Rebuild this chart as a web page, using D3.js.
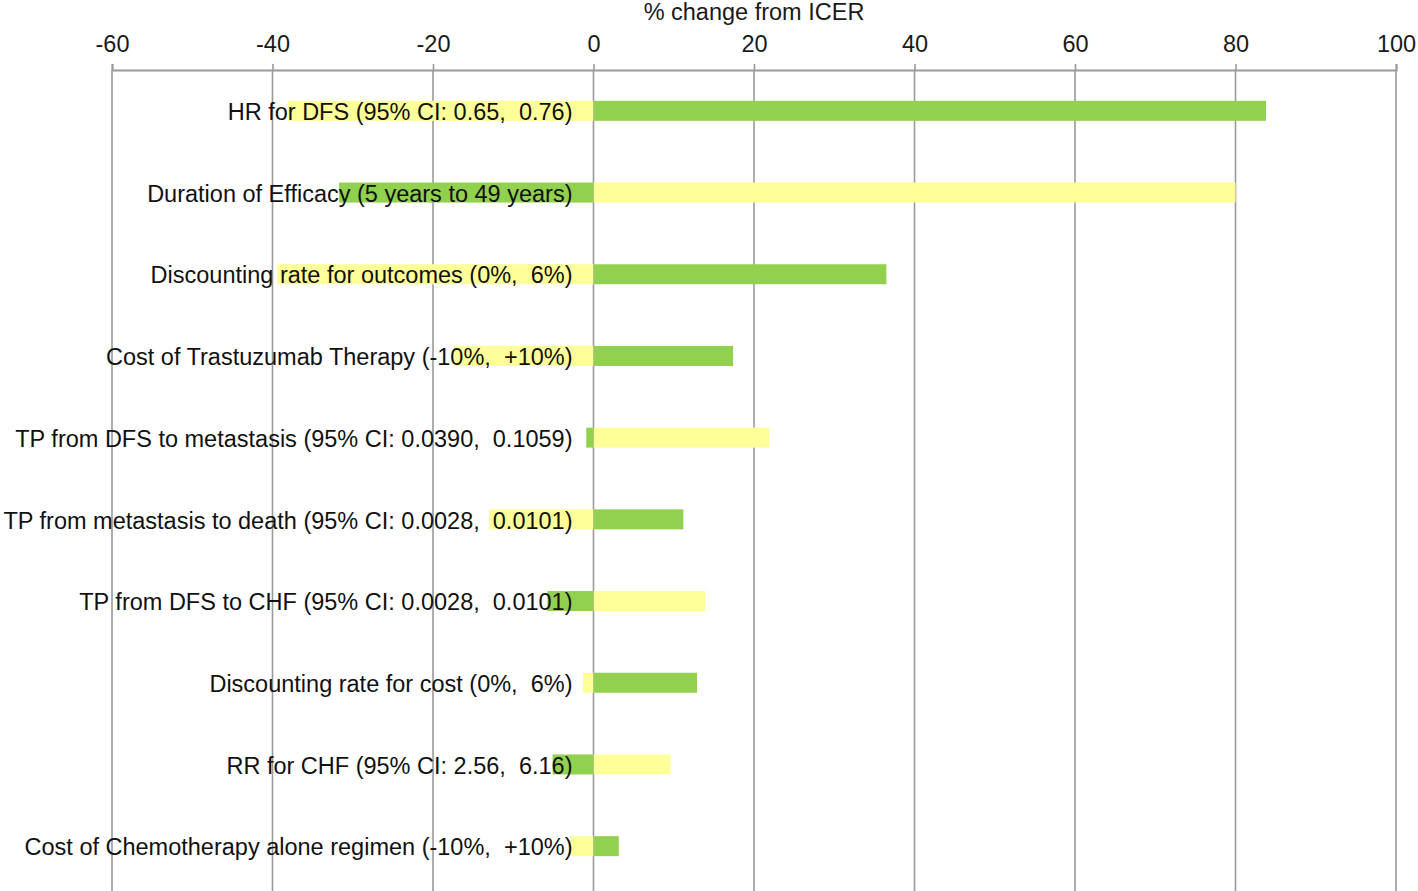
<!DOCTYPE html>
<html>
<head>
<meta charset="utf-8">
<script src="https://cdn.jsdelivr.net/npm/d3@7"></script>
<style>
  html, body { margin: 0; padding: 0; background: #fff; }
  svg { display: block; font-family: "Liberation Sans", Arial, sans-serif; }
</style>
</head>
<body>
<svg id="chart" width="1418" height="891"></svg>
<script>
const categories = [
  "HR for DFS (95% CI: 0.65,  0.76)",
  "Duration of Efficacy (5 years to 49 years)",
  "Discounting rate for outcomes (0%,  6%)",
  "Cost of Trastuzumab Therapy (-10%,  +10%)",
  "TP from DFS to metastasis (95% CI: 0.0390,  0.1059)",
  "TP from metastasis to death (95% CI: 0.0028,  0.0101)",
  "TP from DFS to CHF (95% CI: 0.0028,  0.0101)",
  "Discounting rate for cost (0%,  6%)",
  "RR for CHF (95% CI: 2.56,  6.16)",
  "Cost of Chemotherapy alone regimen (-10%,  +10%)"
];
const greenValues  = [83.8, -31.7, 36.5, 17.4, -0.9, 11.2, -5.75, 12.9, -5.1, 3.15];
const yellowValues = [-38.1, 80.0, -39.4, -17.4, 21.9, -13.0, 13.9, -1.3, 9.6, -2.9];
const xTicks = [-60, -40, -20, 0, 20, 40, 60, 80, 100];
const axisTitle = "% change from ICER";

(function () {
const svg = d3.select("#chart");
const W = 1418, H = 891;
const mLeft = 112, mRight = 1396, mTop = 70, mBottom = 887;
const FS = 23.5;

const x = d3.scaleLinear().domain([-60, 100]).range([mLeft, mRight]);
const p = 0.755;
const y = d3.scaleBand().domain(categories).range([mTop, mBottom]).paddingInner(p).paddingOuter(p / 2);

// gridlines
svg.append("g").selectAll("line").data(xTicks).join("line")
  .attr("x1", d => x(d)).attr("x2", d => x(d))
  .attr("y1", mTop).attr("y2", H)
  .attr("stroke", "#9a9a9a").attr("stroke-width", 1.6);

// bars
const rows = categories.map((c, i) => ({c, g: greenValues[i], yv: yellowValues[i]}));
const barG = svg.append("g");
barG.selectAll("rect.y").data(rows).join("rect").attr("class", "y")
  .attr("x", d => x(Math.min(0, d.yv))).attr("width", d => Math.abs(x(d.yv) - x(0)))
  .attr("y", d => y(d.c)).attr("height", y.bandwidth())
  .attr("fill", "#ffff99");
barG.selectAll("rect.g").data(rows).join("rect").attr("class", "g")
  .attr("x", d => x(Math.min(0, d.g))).attr("width", d => Math.abs(x(d.g) - x(0)))
  .attr("y", d => y(d.c)).attr("height", y.bandwidth())
  .attr("fill", "#92d050");

// axis
const axis = d3.axisTop(x).tickValues(xTicks).tickSize(6).tickPadding(12).tickFormat(d => String(d));
const ag = svg.append("g").attr("transform", `translate(0,${mTop})`).call(axis);
ag.select(".domain").attr("stroke", "#9a9a9a").attr("stroke-width", 2);
ag.selectAll(".tick line").attr("stroke", "#9a9a9a").attr("stroke-width", 1.6);
ag.selectAll(".tick text").attr("font-size", FS).attr("fill", "#1a1a1a")
  .attr("font-family", "'Liberation Sans', Arial, sans-serif");

// title
svg.append("text").attr("x", (mLeft + mRight) / 2).attr("y", 20)
  .attr("text-anchor", "middle").attr("font-size", FS).attr("fill", "#1a1a1a")
  .text(axisTitle);

// labels
svg.append("g").selectAll("text").data(categories).join("text")
  .attr("x", x(0) - 21)
  .attr("y", d => y(d) + y.bandwidth() / 2 + 1)
  .attr("dy", "0.35em")
  .attr("text-anchor", "end")
  .attr("font-size", FS)
  .attr("fill", "#111")
  .style("white-space", "pre")
  .text(d => d);
})();
</script>
</body>
</html>
